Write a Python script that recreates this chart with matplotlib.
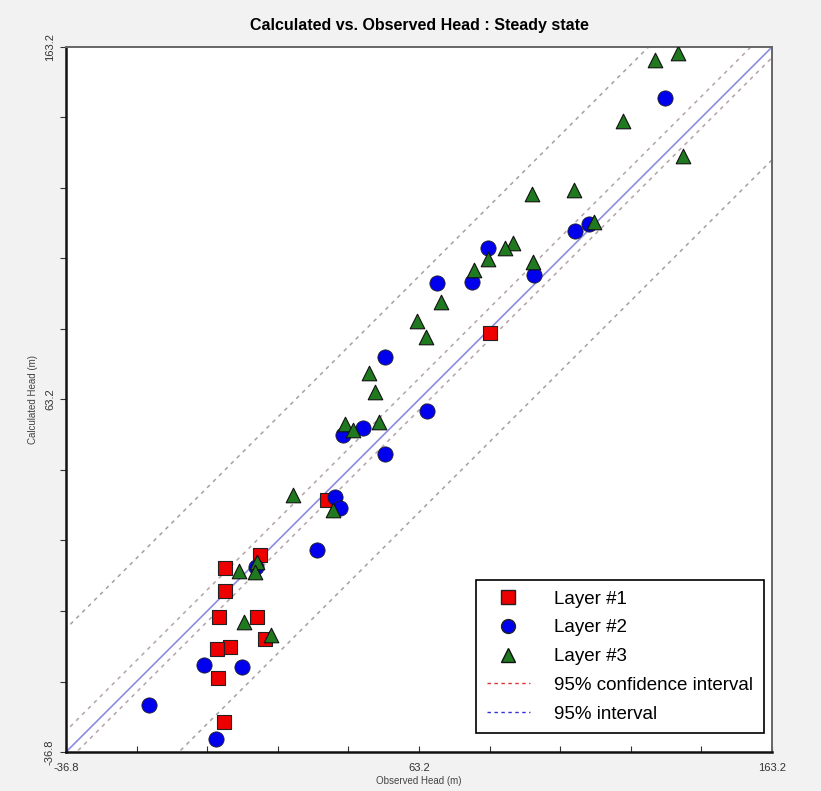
import numpy as np
import matplotlib.pyplot as plt
from matplotlib.lines import Line2D

# observed / calculated heads per layer
layer1_obs = [8.2, 18.2, 8.2, 6.5, 17.3, 19.6, 9.7, 6.0, 6.3, 8.0, 37.1, 83.3]
layer1_calc = [15.4, 19.1, 8.9, 1.5, 1.5, -4.7, -7.0, -7.6, -15.8, -28.3, 34.7, 82.1]

layer2_obs = [132.9, 82.8, 107.4, 111.4, 78.2, 68.3, 95.8, 53.6, 65.5, 47.3, 41.7,
              53.6, 39.4, 40.8, 34.3, 17.0, 2.3, 13.1, -13.3, 5.7]
layer2_calc = [148.7, 106.2, 111.0, 113.0, 96.5, 96.3, 98.5, 75.3, 59.9, 55.1, 53.1,
               47.7, 35.5, 32.4, 20.5, 15.7, -12.1, -12.7, -23.5, -33.1]

layer3_obs = [136.6, 130.1, 121.0, 138.0, 95.2, 107.1, 112.8, 89.8, 87.6, 82.8, 78.8,
              95.5, 69.4, 62.6, 65.2, 49.0, 50.7, 42.2, 44.5, 51.9, 27.5, 38.8,
              12.2, 17.3, 16.7, 13.6, 21.3]
layer3_calc = [161.5, 159.5, 142.2, 132.3, 121.5, 122.6, 113.6, 107.6, 106.2, 103.1, 99.9,
               102.2, 90.9, 85.5, 80.9, 70.7, 65.3, 56.3, 54.6, 56.8, 36.1, 31.9,
               14.6, 17.1, 14.3, 0.1, -3.6]

# interval offsets from the 1:1 line
conf_offsets = [6.0, -3.0]
pred_offsets = [35.0, -32.0]

lo, hi = -36.8, 163.2
tick_vals = np.arange(lo, hi + 0.01, 20)
tick_labels = ['-36.8', '63.2', '163.2']

plt.rcParams['font.family'] = ['Liberation Sans', 'DejaVu Sans']

fig = plt.figure(figsize=(8.21, 7.91), dpi=100, facecolor='#f2f2f2')
ax = fig.add_axes([0.0804, 0.0493, 0.860, 0.8913])
ax.set_facecolor('white')

xx = np.array([lo - 50, hi + 50])
for off in pred_offsets:
    ax.plot(xx, xx + off, color='#a0a0a8', lw=1.1, ls=(0, (2.5, 3)), zorder=1)
for off in conf_offsets:
    ax.plot(xx, xx + off, color='#b4a4a4', lw=1.1, ls=(0, (2.5, 3)), zorder=1)
ax.plot(xx, xx, color='#8c8ce0', lw=1.2, zorder=2)

ax.scatter(layer1_obs, layer1_calc, marker='s', s=110, c='#ee0000',
           edgecolors='#222222', linewidths=0.8, zorder=3)
ax.scatter(layer2_obs, layer2_calc, marker='o', s=120, c='#0000ee',
           edgecolors='#222222', linewidths=0.6, zorder=3)
ax.scatter(layer3_obs, layer3_calc, marker='^', s=110, c='#1f7a1f',
           edgecolors='#111111', linewidths=0.8, zorder=3)

ax.set_xlim(lo, hi)
ax.set_ylim(lo, hi)

ax.set_xticks(tick_vals)
ax.set_yticks(tick_vals)
labs = ['' for _ in tick_vals]
labs[0], labs[5], labs[10] = tick_labels
ax.set_xticklabels(labs)
ax.set_yticklabels(labs, rotation=90, va='center')
ax.tick_params(axis='x', direction='in', length=4, labelsize=8, colors='#333333', pad=8)
ax.tick_params(axis='y', direction='out', length=4, labelsize=8, colors='#333333', pad=4)

for s in ['left', 'bottom']:
    ax.spines[s].set_linewidth(1.8)
    ax.spines[s].set_color('#111111')
for s in ['top', 'right']:
    ax.spines[s].set_linewidth(1.4)
    ax.spines[s].set_color('#666666')

ax.set_title('Calculated vs. Observed Head : Steady state', fontsize=11.5,
             fontweight='bold', pad=12)
ax.set_xlabel('Observed Head (m)', fontsize=7, color='#444444', labelpad=2)
ax.set_ylabel('Calculated Head (m)', fontsize=7, color='#444444', labelpad=5)

handles = [
    Line2D([], [], marker='s', ls='none', ms=10, mfc='#ee0000', mec='#222222'),
    Line2D([], [], marker='o', ls='none', ms=10, mfc='#0000ee', mec='#222222'),
    Line2D([], [], marker='^', ls='none', ms=10, mfc='#1f7a1f', mec='#111111'),
    Line2D([], [], color='#dd3333', lw=1, ls=(0, (2.5, 2.5))),
    Line2D([], [], color='#3333dd', lw=1, ls=(0, (2.5, 2.5))),
]
names = ['Layer #1', 'Layer #2', 'Layer #3', '95% confidence interval', '95% interval']
leg = ax.legend(handles, names, loc='lower right', bbox_to_anchor=(0.988, 0.027),
                fontsize=13.5, frameon=True, fancybox=False, edgecolor='black',
                handlelength=2.3, handletextpad=1.3, labelspacing=0.62,
                borderpad=0.55, borderaxespad=0, framealpha=1)
leg.get_frame().set_linewidth(1.2)

fig.savefig('out.png', dpi=100, facecolor=fig.get_facecolor())
